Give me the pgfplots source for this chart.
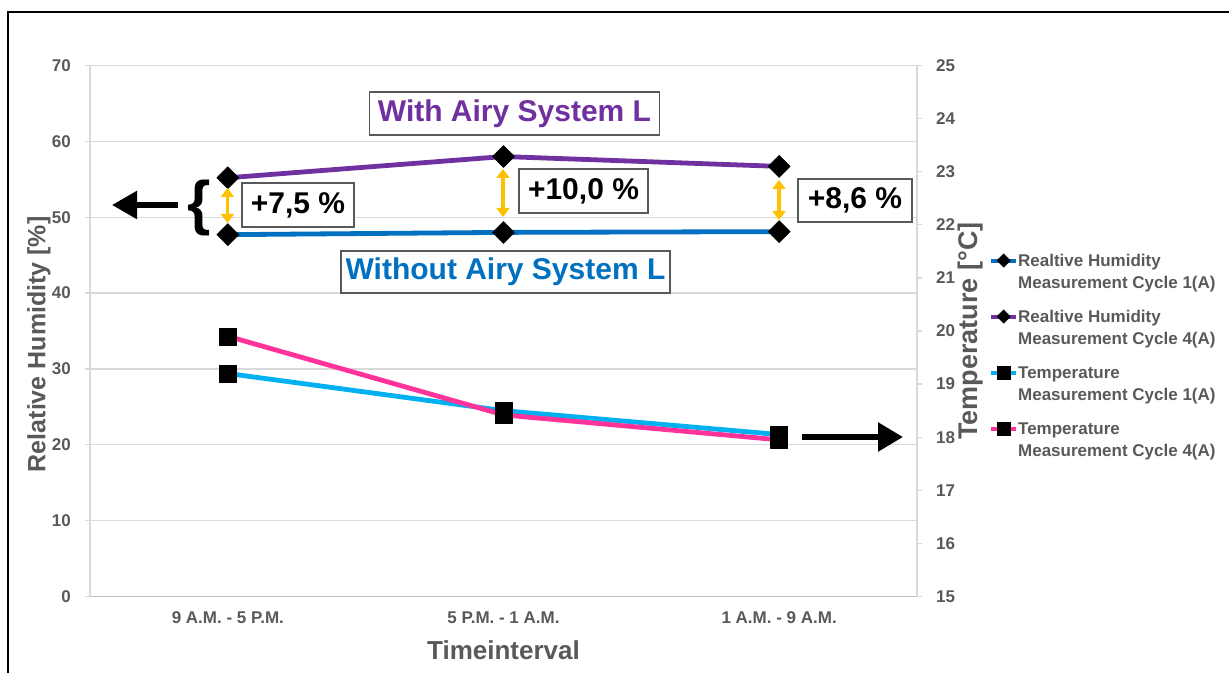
\documentclass[border=0pt]{standalone}
\usepackage{fontspec}
\setmainfont{Liberation Sans}
\usepackage{pgfplots}
\pgfplotsset{compat=1.18}
\usetikzlibrary{arrows.meta}
\definecolor{tickgray}{HTML}{595959}
\definecolor{gridgray}{HTML}{D9D9D9}
\definecolor{axgray}{HTML}{BFBFBF}
\definecolor{rhone}{HTML}{0070C0}
\definecolor{rhfour}{HTML}{7030A0}
\definecolor{tone}{HTML}{00B0F0}
\definecolor{tfour}{HTML}{FF3399}
\definecolor{arrowor}{HTML}{FFC000}
\newcommand{\LE}[2]{\begin{tabular}[t]{@{}l@{}}#1\\#2\end{tabular}}
\pgfplotsset{
  common/.style={
    scale only axis, width=827pt, height=531pt,
    at={(90pt,76.5pt)}, anchor=south west,
    xmin=-0.5, xmax=2.5,
    /pgf/number format/assume math mode=true,
    tick align=outside, major tick length=5pt,
    tick style={gridgray, line width=1.3pt},
    yticklabel style={font=\bfseries\fontsize{17}{17}\selectfont, text=tickgray, inner sep=0pt},
    ylabel style={font=\bfseries\fontsize{25}{25}\selectfont, text=tickgray},
    y axis line style={gridgray, line width=1.3pt},
  }
}
\begin{document}
\begin{tikzpicture}
\path[use as bounding box] (0,0) rectangle (1229pt,673pt);
\begin{axis}[common,
  ymin=0, ymax=70, ytick={0,10,...,70},
  axis x line*=bottom, axis y line*=left,
  x axis line style={axgray, line width=1.3pt},
  xtick=\empty,
  extra x ticks={0,1,2},
  extra x tick labels={9 A.M. - 5 P.M., 5 P.M. - 1 A.M., 1 A.M. - 9 A.M.},
  extra x tick style={major tick length=0pt, grid=none,
    xticklabel style={font=\bfseries\fontsize{17}{17}\selectfont, text=tickgray, inner sep=0pt, anchor=center, yshift=-21pt}},
  minor xtick={-0.5,0.5,1.5,2.5}, xminorgrids=true, minor tick length=8pt,
  minor tick style={axgray, line width=1.3pt},
  minor grid style={gridgray, line width=1.3pt},
  ymajorgrids=true, major grid style={gridgray, line width=1.3pt},
  yticklabel style={anchor=east, xshift=-14pt},
  xlabel={Timeinterval},
  xlabel style={font=\bfseries\fontsize{26}{26}\selectfont, text=tickgray, at={(axis description cs:0.5,-0.1007)}, anchor=center},
  ylabel={Relative Humidity [\%]},
  ylabel style={at={(axis description cs:-0.0617,0.475)}, anchor=center},
]
\addplot[rhone, line width=4.8pt, line join=round, mark=square*, mark size=7.8pt,
  mark options={rotate=45, fill=black, draw=black, line width=0.5pt}]
  coordinates {(0,47.7) (1,48.0) (2,48.1)};
\addplot[rhfour, line width=4.8pt, line join=round, mark=square*, mark size=7.8pt,
  mark options={rotate=45, fill=black, draw=black, line width=0.5pt}]
  coordinates {(0,55.2) (1,58.0) (2,56.7)};
\end{axis}
\begin{axis}[common,
  ymin=15, ymax=25, ytick={15,16,...,25},
  axis y line*=right, axis x line=none,
  yticklabel style={anchor=west, xshift=14pt},
  ylabel={Temperature [°C]},
  ylabel style={at={(axis description cs:1.0641,0.5)}, anchor=center, font=\bfseries\fontsize{27}{27}\selectfont},
  legend style={at={(axis description cs:1.0870,0.6507)}, anchor=north west,
    draw=none, fill=none, inner sep=0pt, row sep=12pt,
    font=\bfseries\fontsize{17}{22}\selectfont, text=tickgray,
    nodes={inner sep=0pt, text depth=}, cells={anchor=base west}},
  legend image code/.code={\draw[mark repeat=2, mark phase=2, #1]
    plot coordinates {(0pt,6pt) (12.5pt,6pt) (25pt,6pt)};},
]
\addplot[tone, line width=4.8pt, line join=round, mark=square*, mark size=8.5pt,
  mark options={fill=black, draw=black, line width=0.5pt}, forget plot]
  coordinates {(0,19.20) (1,18.50) (2,18.05)};
\addplot[tfour, line width=4.8pt, line join=round, mark=square*, mark size=8.5pt,
  mark options={fill=black, draw=black, line width=0.5pt}, forget plot]
  coordinates {(0,19.90) (1,18.42) (2,17.95)};
\addlegendimage{rhone, line width=4pt, mark=square*, mark size=3pt, mark options={rotate=45, fill=black, draw=black}}
\addlegendentry{\LE{Realtive Humidity}{Measurement Cycle 1(A)}}
\addlegendimage{rhfour, line width=4pt, mark=square*, mark size=3pt, mark options={rotate=45, fill=black, draw=black}}
\addlegendentry{\LE{Realtive Humidity}{Measurement Cycle 4(A)}}
\addlegendimage{tone, line width=4pt, mark=square*, mark size=5pt, mark options={fill=black, draw=black}}
\addlegendentry{\LE{Temperature}{Measurement Cycle 1(A)}}
\addlegendimage{tfour, line width=4pt, mark=square*, mark size=5pt, mark options={fill=black, draw=black}}
\addlegendentry{\LE{Temperature}{Measurement Cycle 4(A)}}
\end{axis}
\begin{scope}[x=1pt, y=-1pt, yshift=673pt]
  \draw[line width=2.5pt] (8,673) -- (8,12) -- (1229,12);
  \draw[line width=5.5pt, -{Triangle[length=25pt,width=27pt]}] (178,205) -- (112,205);
  \draw[line width=5.5pt, -{Triangle[length=25pt,width=28pt]}] (802,437) -- (903,437);
  \tikzset{oarr/.style={arrowor, line width=3.8pt, {Triangle[length=9pt,width=13pt]}-{Triangle[length=9pt,width=13pt]}}}
  \draw[oarr] (227.5,188) -- (227.5,223);
  \draw[oarr] (503,169) -- (503,217);
  \draw[oarr] (779,180) -- (779,220);
  \node[font=\bfseries\fontsize{60}{60}\selectfont] at (199,208) {\{};
  \tikzset{lbl/.style={draw=tickgray, line width=1.2pt, fill=white, inner sep=0pt, font=\bfseries\fontsize{30}{30}\selectfont}}
  \node[lbl, text=rhfour, minimum width=290pt, minimum height=43pt] at (514.5,113.5) {With Airy System L};
  \node[lbl, text=rhone, minimum width=329pt, minimum height=42pt] at (505.5,272) {Without Airy System L};
  \node[lbl, minimum width=112pt, minimum height=44pt] at (298,205) {+7,5 \%};
  \node[lbl, minimum width=129pt, minimum height=44pt] at (583.5,191) {+10,0 \%};
  \node[lbl, minimum width=114pt, minimum height=43pt] at (855,200.5) {+8,6 \%};
\end{scope}
\end{tikzpicture}
\end{document}
